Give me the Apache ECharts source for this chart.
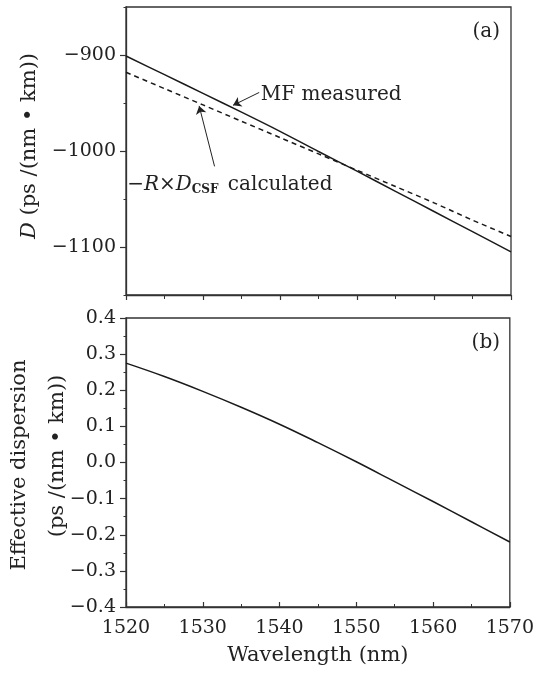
<!DOCTYPE html>
<html><head><meta charset="utf-8">
<script src="https://cdn.jsdelivr.net/npm/echarts@6/dist/echarts.min.js"></script>
<style>html,body{margin:0;padding:0;background:#fff}#c{width:537px;height:675px}</style>
</head><body><div id="c"></div><script>
// ---- data ----
const wavelengths = [1520, 1525, 1530, 1535, 1540, 1545, 1550, 1555, 1560, 1565, 1570];
const mfMeasured = [-901, -920.5, -940, -959.5, -979.5, -1000.5, -1021, -1042, -1063, -1084, -1105];
const csfCalculated = [-918, -935, -952, -969, -986, -1003, -1020, -1037, -1054, -1072, -1089];
const effectiveDispersion = [0.275, 0.238, 0.197, 0.153, 0.106, 0.055, 0.002, -0.053, -0.108, -0.164, -0.22];
const xTickLabels = [1520, 1530, 1540, 1550, 1560, 1570];
const topYTickLabels = [-1100, -1000, -900];
const bottomYTickLabels = [-0.4, -0.3, -0.2, -0.1, 0.0, 0.1, 0.2, 0.3, 0.4];
// annotation anchors (data coordinates)
const mfArrow = [[1537.3, -939], [1533.9, -952.4]];
const csfArrow = [[1531.5, -1016], [1529.5, -953]];
const mfTextAt = [1537.5, -941];
const csfTextAt = [1520.15, -1035];

const FONT = 'DejaVu Serif';
const INK = '#222';
const AX = '#333';
const TICK_FS = 19, TITLE_FS = 21, ANN_FS = 20;
const minus = s => String(s).replace('-', '\u2212');
const pairs = (xs, ys) => xs.map((x, i) => [x, ys[i]]);

const chart = echarts.init(document.getElementById('c'), null, {renderer: 'canvas'});

const axisLineStyle = {color: AX, width: 1.3};
const baseX = {
  type: 'value', min: 1520, max: 1570, interval: 10,
  axisLine: {show: true, onZero: false, lineStyle: axisLineStyle},
  splitLine: {show: false}
};

const option = {
  animation: false,
  backgroundColor: '#fff',
  textStyle: {fontFamily: FONT},
  grid: [
    {left: 126, top: 7, width: 385, height: 288, show: true, borderColor: AX, borderWidth: 1.3, containLabel: false},
    {left: 126, top: 318, width: 385, height: 289, show: true, borderColor: AX, borderWidth: 1.3, containLabel: false}
  ],
  xAxis: [
    Object.assign({}, baseX, {gridIndex: 0, position: 'bottom', axisLabel: {show: false},
      axisTick: {show: true, inside: false, length: 5, lineStyle: {color: AX, width: 1.2}},
      minorTick: {show: true, splitNumber: 2, length: 4, lineStyle: {color: AX, width: 1}}}),
    Object.assign({}, baseX, {gridIndex: 1, position: 'bottom',
      axisTick: {show: true, inside: true, length: 5, lineStyle: {color: AX, width: 1.2}},
      minorTick: {show: true, splitNumber: 2, length: 3, lineStyle: {color: AX, width: 1}},
      axisLabel: {show: true, margin: 12, fontSize: TICK_FS, color: INK, fontFamily: FONT,
        showMinLabel: true, showMaxLabel: true, formatter: v => String(v)},
      name: 'Wavelength (nm)', nameLocation: 'middle', nameGap: 38,
      nameTextStyle: {fontSize: TITLE_FS, color: INK, fontFamily: FONT}})
  ],
  yAxis: [
    {type: 'value', gridIndex: 0, position: 'left', min: -1150, max: -850, interval: 50,
      axisLine: {show: true, onZero: false, lineStyle: axisLineStyle},
      splitLine: {show: false},
      axisTick: {show: true, length: 6, customValues: topYTickLabels, lineStyle: {color: AX, width: 1.2}},
      axisLabel: {show: true, margin: 10, fontSize: TICK_FS, color: INK, fontFamily: FONT,
        customValues: topYTickLabels, formatter: v => minus(v)}},
    {type: 'value', gridIndex: 0, position: 'left', offset: 0, min: -1150, max: -850, interval: 50,
      axisLine: {show: false}, splitLine: {show: false},
      axisTick: {show: true, length: 2.5, lineStyle: {color: AX, width: 1}},
      axisLabel: {show: false}},
    {type: 'value', gridIndex: 1, position: 'left', min: -0.4, max: 0.4, interval: 0.1,
      axisLine: {show: true, onZero: false, lineStyle: axisLineStyle},
      splitLine: {show: false},
      axisTick: {show: true, length: 6, lineStyle: {color: AX, width: 1.2}},
      minorTick: {show: true, splitNumber: 2, length: 2.5, lineStyle: {color: AX, width: 1}},
      axisLabel: {show: true, margin: 10, fontSize: TICK_FS, color: INK, fontFamily: FONT,
        showMinLabel: true, showMaxLabel: true, formatter: v => minus(Number(v).toFixed(1))}}
  ],
  series: [
    {name: 'MF measured', type: 'line', xAxisIndex: 0, yAxisIndex: 0, data: pairs(wavelengths, mfMeasured),
      smooth: 0.3, showSymbol: false, symbol: 'none', lineStyle: {color: '#1a1a1a', width: 1.5},
      markLine: {silent: true, symbol: ['none', 'arrow'], symbolSize: 8, animation: false,
        lineStyle: {color: INK, width: 1, type: 'solid'}, label: {show: false},
        data: [[{coord: mfArrow[0]}, {coord: mfArrow[1]}]]}},
    {name: '-R x D_CSF calculated', type: 'line', xAxisIndex: 0, yAxisIndex: 0, data: pairs(wavelengths, csfCalculated),
      smooth: 0.3, showSymbol: false, symbol: 'none', lineStyle: {color: '#1a1a1a', width: 1.5, type: [5, 4]},
      markLine: {silent: true, symbol: ['none', 'arrow'], symbolSize: 8, animation: false,
        lineStyle: {color: INK, width: 1, type: 'solid'}, label: {show: false},
        data: [[{coord: csfArrow[0]}, {coord: csfArrow[1]}]]}},
    {name: 'Effective dispersion', type: 'line', xAxisIndex: 1, yAxisIndex: 2, data: pairs(wavelengths, effectiveDispersion),
      smooth: 0.4, showSymbol: false, symbol: 'none', lineStyle: {color: '#1a1a1a', width: 1.5}}
  ]
};
chart.setOption(option);

const p1 = chart.convertToPixel({xAxisIndex: 0, yAxisIndex: 0}, mfTextAt);
const p2 = chart.convertToPixel({xAxisIndex: 0, yAxisIndex: 0}, csfTextAt);
const txt = (extra) => Object.assign({fill: INK, fontFamily: FONT, fontSize: ANN_FS}, extra);
chart.setOption({
  graphic: [
    {type: 'text', x: p1[0], y: p1[1], style: txt({text: 'MF measured', align: 'left', verticalAlign: 'middle'})},
    {type: 'text', x: p2[0], y: p2[1], style: txt({
      text: '\u2212{i|R}\u00d7{i|D}{s|CSF} calculated', align: 'left', verticalAlign: 'middle',
      rich: {i: {fontStyle: 'italic', fontFamily: FONT, fontSize: ANN_FS, fill: INK},
             s: {fontSize: 12, fontFamily: FONT, fontWeight: 'bold', fill: INK, padding: [10, 3, 0, 0]}}})},
    {type: 'text', x: 500, y: 32, style: txt({text: '(a)', align: 'right', verticalAlign: 'middle'})},
    {type: 'text', x: 500, y: 343, style: txt({text: '(b)', align: 'right', verticalAlign: 'middle'})},
    {type: 'text', x: 30, y: 146, rotation: Math.PI / 2, style: txt({
      text: '{i|D} (ps /(nm \u2022 km))', align: 'center', verticalAlign: 'middle', fontSize: TITLE_FS,
      rich: {i: {fontStyle: 'italic', fontFamily: FONT, fontSize: TITLE_FS, fill: INK}}})},
    {type: 'text', x: 20, y: 465, rotation: Math.PI / 2, style: txt({text: 'Effective dispersion', align: 'center', verticalAlign: 'middle', fontSize: TITLE_FS})},
    {type: 'text', x: 58, y: 456, rotation: Math.PI / 2, style: txt({text: '(ps /(nm \u2022 km))', align: 'center', verticalAlign: 'middle', fontSize: TITLE_FS})}
  ]
});
</script></body></html>
